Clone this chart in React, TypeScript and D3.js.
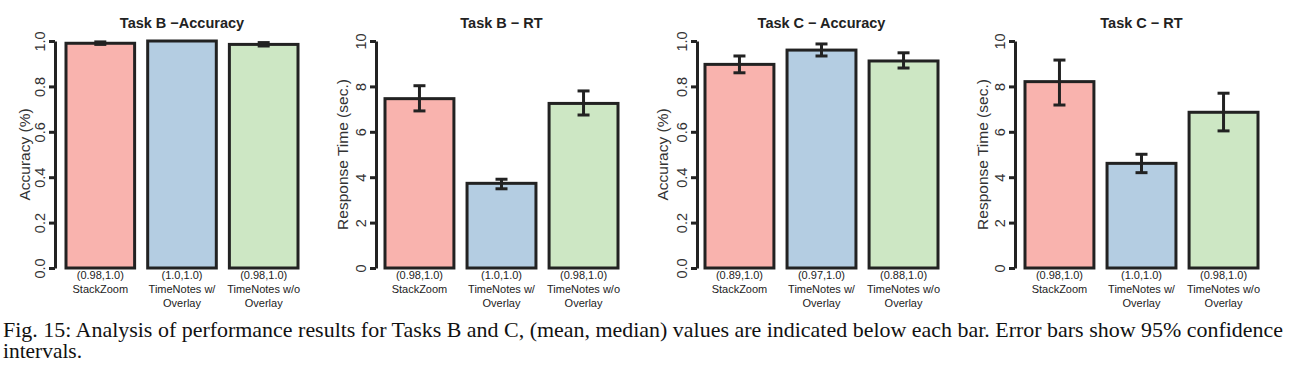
import * as d3 from "d3";
import { useEffect, useRef } from "react";

// bar categories (split in lines as printed under the bars)
const categories = [["StackZoom"], ["TimeNotes w/", "Overlay"], ["TimeNotes w/o", "Overlay"]];
const barColors = ["#f9b3ae", "#b4cde2", "#cde7c4"];

const titles = ["Task B \u2212Accuracy", "Task B \u2212 RT", "Task C \u2212 Accuracy", "Task C \u2212 RT"];
const yLabels = ["Accuracy (%)", "Response Time (sec.)", "Accuracy (%)", "Response Time (sec.)"];
const yMax = [1, 10, 1, 10];
const accTicks = [0, 0.2, 0.4, 0.6, 0.8, 1.0];
const rtTicks = [0, 2, 4, 6, 8, 10];

// bar heights and 95% CI bounds
const taskBAccMean = [0.99, 1.0, 0.985];
const taskBAccLow = [0.985, 1.0, 0.978];
const taskBAccHigh = [0.996, 1.0, 0.993];

const taskBRtMean = [7.46, 3.73, 7.25];
const taskBRtLow = [6.92, 3.49, 6.74];
const taskBRtHigh = [8.03, 3.91, 7.8];

const taskCAccMean = [0.897, 0.96, 0.912];
const taskCAccLow = [0.86, 0.934, 0.881];
const taskCAccHigh = [0.934, 0.987, 0.948];

const taskCRtMean = [8.21, 4.61, 6.86];
const taskCRtLow = [7.18, 4.2, 6.04];
const taskCRtHigh = [9.16, 5.01, 7.7];

// (mean, median) text under each bar
const taskBAccSummary = ["(0.98,1.0)", "(1.0,1.0)", "(0.98,1.0)"];
const taskBRtSummary = ["(0.98,1.0)", "(1.0,1.0)", "(0.98,1.0)"];
const taskCAccSummary = ["(0.89,1.0)", "(0.97,1.0)", "(0.88,1.0)"];
const taskCRtSummary = ["(0.98,1.0)", "(1.0,1.0)", "(0.98,1.0)"];

const captionLine1 =
  "Fig. 15: Analysis of performance results for Tasks B and C, (mean, median) values are indicated below each bar. Error bars show 95% confidence";
const captionLine2 = "intervals.";

const panels = [
  { mean: taskBAccMean, low: taskBAccLow, high: taskBAccHigh, summary: taskBAccSummary, ticks: accTicks, fmt: ".1f" },
  { mean: taskBRtMean, low: taskBRtLow, high: taskBRtHigh, summary: taskBRtSummary, ticks: rtTicks, fmt: "d" },
  { mean: taskCAccMean, low: taskCAccLow, high: taskCAccHigh, summary: taskCAccSummary, ticks: accTicks, fmt: ".1f" },
  { mean: taskCRtMean, low: taskCRtLow, high: taskCRtHigh, summary: taskCRtSummary, ticks: rtTicks, fmt: "d" },
];

// horizontal layout of each panel
const layout = [
  { axisX: 55, x0: 66, x1: 298, labX: 24.5 },
  { axisX: 376, x0: 385, x1: 618, labX: 342.5 },
  { axisX: 697, x0: 705, x1: 938, labX: 662 },
  { axisX: 1015, x0: 1025, x1: 1258, labX: 982.5 },
];

const sans = "'Liberation Sans', Arial, Helvetica, sans-serif";
const ink = "#222";

export default function App() {
  const ref = useRef<SVGSVGElement>(null);

  useEffect(() => {
    document.body.style.margin = "0";
    const svg = d3.select(ref.current);
    svg.selectAll("*").remove();

    const top = 41;
    const bottom = 268;

    panels.forEach((p, i) => {
      const L = layout[i];
      const y = d3.scaleLinear().domain([0, yMax[i]]).range([bottom, top]);
      const x = d3
        .scaleBand()
        .domain(["0", "1", "2"])
        .range([L.x0, L.x1])
        .paddingInner(0.16)
        .paddingOuter(0);

      const g = svg.append("g");

      // title
      g.append("text")
        .attr("x", (L.x0 + L.x1) / 2)
        .attr("y", 28)
        .attr("text-anchor", "middle")
        .attr("font-family", sans)
        .attr("font-weight", "bold")
        .attr("font-size", 14.5)
        .attr("fill", ink)
        .text(titles[i]);

      // y axis
      const axis = g
        .append("g")
        .attr("transform", `translate(${L.axisX},0)`)
        .call(
          d3
            .axisLeft(y)
            .tickValues(p.ticks)
            .tickSizeOuter(0)
            .tickSizeInner(6)
            .tickFormat(d3.format(p.fmt) as any)
        );
      axis.attr("font-size", null).attr("font-family", null);
      axis.select(".domain").attr("stroke", ink).attr("stroke-width", 3);
      axis.selectAll(".tick line").attr("stroke", ink).attr("stroke-width", 3);
      axis
        .selectAll(".tick text")
        .attr("transform", "rotate(-90)")
        .attr("x", 0)
        .attr("y", -10.5)
        .attr("dy", 0)
        .attr("text-anchor", "middle")
        .style("font-family", sans)
        .style("font-size", "14.5px")
        .attr("fill", "#333");

      // y label
      g.append("text")
        .attr("transform", `translate(${L.labX + 5.5},${(top + bottom) / 2}) rotate(-90)`)
        .attr("text-anchor", "middle")
        .style("font-family", sans)
        .style("font-size", "15.5px")
        .attr("fill", "#333")
        .text(yLabels[i]);

      // bars
      g.selectAll("rect.bar")
        .data(p.mean)
        .join("rect")
        .attr("class", "bar")
        .attr("x", (_, j) => x(String(j))!)
        .attr("y", (d) => y(d))
        .attr("width", x.bandwidth())
        .attr("height", (d) => y(0) - y(d))
        .attr("fill", (_, j) => barColors[j])
        .attr("stroke", ink)
        .attr("stroke-width", 3);

      // error bars
      p.mean.forEach((_, j) => {
        if (p.low[j] === p.high[j]) return;
        const cx = x(String(j))! + x.bandwidth() / 2;
        const eb = g.append("g").attr("stroke", ink).attr("stroke-width", 3);
        eb.append("line").attr("x1", cx).attr("x2", cx).attr("y1", y(p.low[j])).attr("y2", y(p.high[j]));
        [p.low[j], p.high[j]].forEach((v) => {
          eb.append("line").attr("x1", cx - 6).attr("x2", cx + 6).attr("y1", y(v)).attr("y2", y(v));
        });
      });

      // labels under bars
      categories.forEach((lines, j) => {
        const cx = x(String(j))! + x.bandwidth() / 2;
        [p.summary[j], ...lines].forEach((t, k) => {
          g.append("text")
            .attr("x", cx)
            .attr("y", 279 + k * 14)
            .attr("text-anchor", "middle")
            .attr("font-family", sans)
            .attr("font-size", 11)
            .attr("fill", ink)
            .text(t);
        });
      });
    });

    // caption
    const serif = "'Liberation Serif', 'Times New Roman', serif";
    svg
      .append("text")
      .attr("x", 3)
      .attr("y", 336.5)
      .attr("font-family", serif)
      .attr("font-size", 21.4)
      .attr("fill", "#111")
      .attr("textLength", 1280)
      .attr("lengthAdjust", "spacingAndGlyphs")
      .text(captionLine1);
    svg
      .append("text")
      .attr("x", 3)
      .attr("y", 358)
      .attr("font-family", serif)
      .attr("font-size", 21.4)
      .attr("fill", "#111")
      .text(captionLine2);
  }, []);

  return <svg ref={ref} width={1298} height={371} style={{ display: "block", background: "#fff" }} />;
}
